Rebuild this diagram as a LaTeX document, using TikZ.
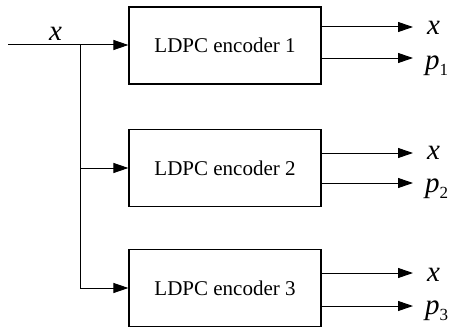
\documentclass[tikz,border=0pt]{standalone}
\usepackage{fontspec}
\setmainfont{Liberation Serif}
\newfontfamily\tnr{Liberation Serif}
\usetikzlibrary{arrows.meta}
\tikzset{
  enc/.style={draw, line width=1.2pt, minimum width=192pt, minimum height=77pt,
    inner sep=0pt, font=\tnr\fontsize{21}{21}\selectfont},
  flow/.style={line width=1pt, -{Triangle[length=15pt,width=10pt]}},
  wire/.style={line width=1pt},
  sym/.style={inner sep=0pt, anchor=base west, font=\tnr\fontsize{29}{29}\selectfont\itshape},
}
\newcommand{\psub}[1]{\textit{p}{\fontsize{17}{17}\selectfont\raisebox{-6pt}{\upshape #1}}}
\begin{document}
\begin{tikzpicture}[x=1pt,y=-1pt]
\useasboundingbox (0,0) rectangle (449,329);
% encoder blocks
\node[enc] (e1) at (225,45.5) {LDPC encoder 1};
\node[enc] (e2) at (225,168) {LDPC encoder 2};
\node[enc] (e3) at (225,288) {LDPC encoder 3};
% input and its branches
\coordinate (in) at (8,45);
\coordinate (j1) at (80,45);
\coordinate (j2) at (80,168);
\coordinate (j3) at (80,288);
\node[sym] (xin) at (49,41) {x};
\draw[flow] (in) -- (e1.west |- in);
\draw[wire] (j1) -- (j3);
\draw[flow] (j2) -- (e2.west |- j2);
\draw[flow] (j3) -- (e3.west |- j3);
% outputs
\coordinate (o1a) at (413,27);
\coordinate (o1b) at (413,58);
\coordinate (o2a) at (413,153);
\coordinate (o2b) at (413,183);
\coordinate (o3a) at (413,273);
\coordinate (o3b) at (413,306);
\draw[flow] (e1.east |- o1a) -- (o1a);
\draw[flow] (e1.east |- o1b) -- (o1b);
\draw[flow] (e2.east |- o2a) -- (o2a);
\draw[flow] (e2.east |- o2b) -- (o2b);
\draw[flow] (e3.east |- o3a) -- (o3a);
\draw[flow] (e3.east |- o3b) -- (o3b);
\node[sym] (x1) at (427,35) {x};
\node[sym] (p1) at (425,69) {\psub{1}};
\node[sym] (x2) at (427,159) {x};
\node[sym] (p2) at (425,192) {\psub{2}};
\node[sym] (x3) at (427,281) {x};
\node[sym] (p3) at (425,314) {\psub{3}};
\end{tikzpicture}
\end{document}
